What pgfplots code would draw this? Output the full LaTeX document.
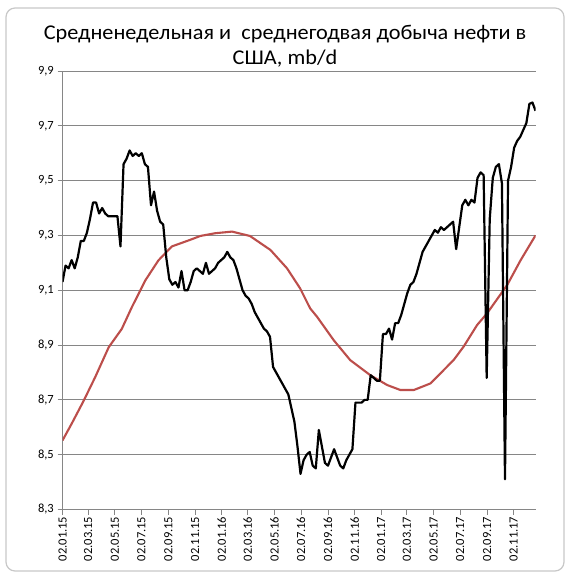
\documentclass[border=0pt]{standalone}
\usepackage{pgfplots}
\pgfplotsset{compat=1.18}
\usepackage{pgfplotstable}
\usepackage{fontspec}
\setmainfont{Carlito}
\newfontfamily\titlefont[FakeStretch=1.06]{Carlito}
\definecolor{gridgray}{RGB}{134,134,134}
\definecolor{avgred}{RGB}{188,78,75}
\definecolor{framegray}{RGB}{200,200,200}

\pgfplotstableread{
day val
0 9.13
7 9.19
14 9.18
21 9.21
28 9.18
35 9.22
42 9.28
49 9.28
56 9.31
63 9.36
70 9.42
77 9.42
84 9.38
91 9.40
98 9.38
105 9.37
112 9.37
119 9.37
126 9.37
133 9.26
140 9.56
147 9.58
154 9.61
161 9.59
168 9.60
175 9.59
182 9.60
189 9.56
196 9.55
203 9.41
210 9.46
217 9.39
224 9.35
231 9.34
238 9.22
245 9.14
252 9.12
259 9.13
266 9.11
273 9.17
280 9.10
287 9.10
294 9.13
301 9.17
308 9.18
315 9.17
322 9.16
329 9.20
336 9.16
343 9.17
350 9.18
357 9.20
364 9.21
371 9.22
378 9.24
385 9.22
392 9.21
399 9.18
406 9.14
413 9.10
420 9.08
427 9.07
434 9.05
441 9.02
448 9.00
455 8.98
462 8.96
469 8.95
476 8.93
483 8.82
490 8.80
497 8.78
504 8.76
511 8.74
518 8.72
525 8.67
532 8.62
539 8.53
546 8.43
553 8.48
560 8.50
567 8.51
574 8.46
581 8.45
588 8.59
595 8.53
602 8.47
609 8.46
616 8.49
623 8.52
630 8.49
637 8.46
644 8.45
651 8.48
658 8.50
665 8.52
672 8.69
679 8.69
686 8.69
693 8.70
700 8.70
707 8.79
714 8.78
721 8.77
728 8.77
735 8.94
742 8.94
749 8.96
756 8.92
763 8.98
770 8.98
777 9.01
784 9.05
791 9.09
798 9.12
805 9.13
812 9.16
819 9.20
826 9.24
833 9.26
840 9.28
847 9.30
854 9.32
861 9.31
868 9.33
875 9.32
882 9.33
889 9.34
896 9.35
903 9.25
910 9.33
917 9.41
924 9.43
931 9.41
938 9.43
945 9.42
952 9.51
959 9.53
966 9.52
973 8.78
980 9.36
987 9.51
994 9.55
1001 9.56
1008 9.49
1015 8.41
1022 9.50
1029 9.55
1036 9.62
1043 9.645
1050 9.66
1057 9.685
1064 9.71
1071 9.78
1078 9.785
1085 9.755
}\weekly

\pgfplotstableread{
day val
0 8.552
21 8.613
48 8.695
75 8.783
106 8.892
136 8.959
159 9.038
190 9.136
220 9.209
251 9.260
293 9.284
316 9.298
350 9.308
389 9.314
430 9.298
477 9.247
515 9.180
545 9.107
568 9.034
584 9.003
622 8.918
660 8.845
706 8.790
745 8.754
775 8.736
806 8.736
844 8.760
897 8.845
920 8.894
951 8.973
974 9.016
1020 9.119
1051 9.210
1085 9.300
}\yearly

\begin{document}
\begin{tikzpicture}[x=1pt,y=1pt]
\fill[white] (0,0) rectangle (570,577);
\draw[framegray, line width=1.2pt, rounded corners=9pt] (6,6) rectangle (564,569);
\node[font=\titlefont\fontsize{21}{24}\selectfont, anchor=base] at (285,537) {Средненедельная и\hspace{0.25em} среднегодвая добыча нефти в};
\node[font=\titlefont\fontsize{21}{24}\selectfont, anchor=base] at (285,512) {США, mb/d};
\begin{axis}[
  at={(62.5pt,67.5pt)}, anchor=south west,
  scale only axis, width=473pt, height=438.5pt,
  xmin=0, xmax=1085, ymin=8.3, ymax=9.9,
  axis lines*=left,
  axis line style={draw=gridgray, line width=0.9pt},
  ymajorgrids,
  grid style={draw=gridgray, line width=0.9pt},
  ytick={8.3,8.5,8.7,8.9,9.1,9.3,9.5,9.7,9.9},
  xtick={0,59,120,181,243,304,365,425,486,547,609,670,731,790,851,912,974,1035},
  xticklabels={02.01.15,02.03.15,02.05.15,02.07.15,02.09.15,02.11.15,02.01.16,02.03.16,02.05.16,02.07.16,02.09.16,02.11.16,02.01.17,02.03.17,02.05.17,02.07.17,02.09.17,02.11.17},
  tick align=outside,
  major tick length=5pt,
  tick style={draw=gridgray, line width=0.9pt},
  x tick label style={rotate=90, anchor=east, font=\fontsize{12.5}{12.5}\selectfont, inner sep=2pt},
  y tick label style={font=\fontsize{12.5}{12.5}\selectfont, inner sep=3.5pt},
  /pgf/number format/assume math mode=true,
  yticklabel style={/pgf/number format/.cd, fixed, fixed zerofill, precision=1, use comma},
]
\addplot[avgred, line width=2.1pt, line join=round] table[x=day,y=val] {\yearly};
\addplot[black, line width=2.2pt, line join=round] table[x=day,y=val] {\weekly};
\end{axis}
\end{tikzpicture}
\end{document}
